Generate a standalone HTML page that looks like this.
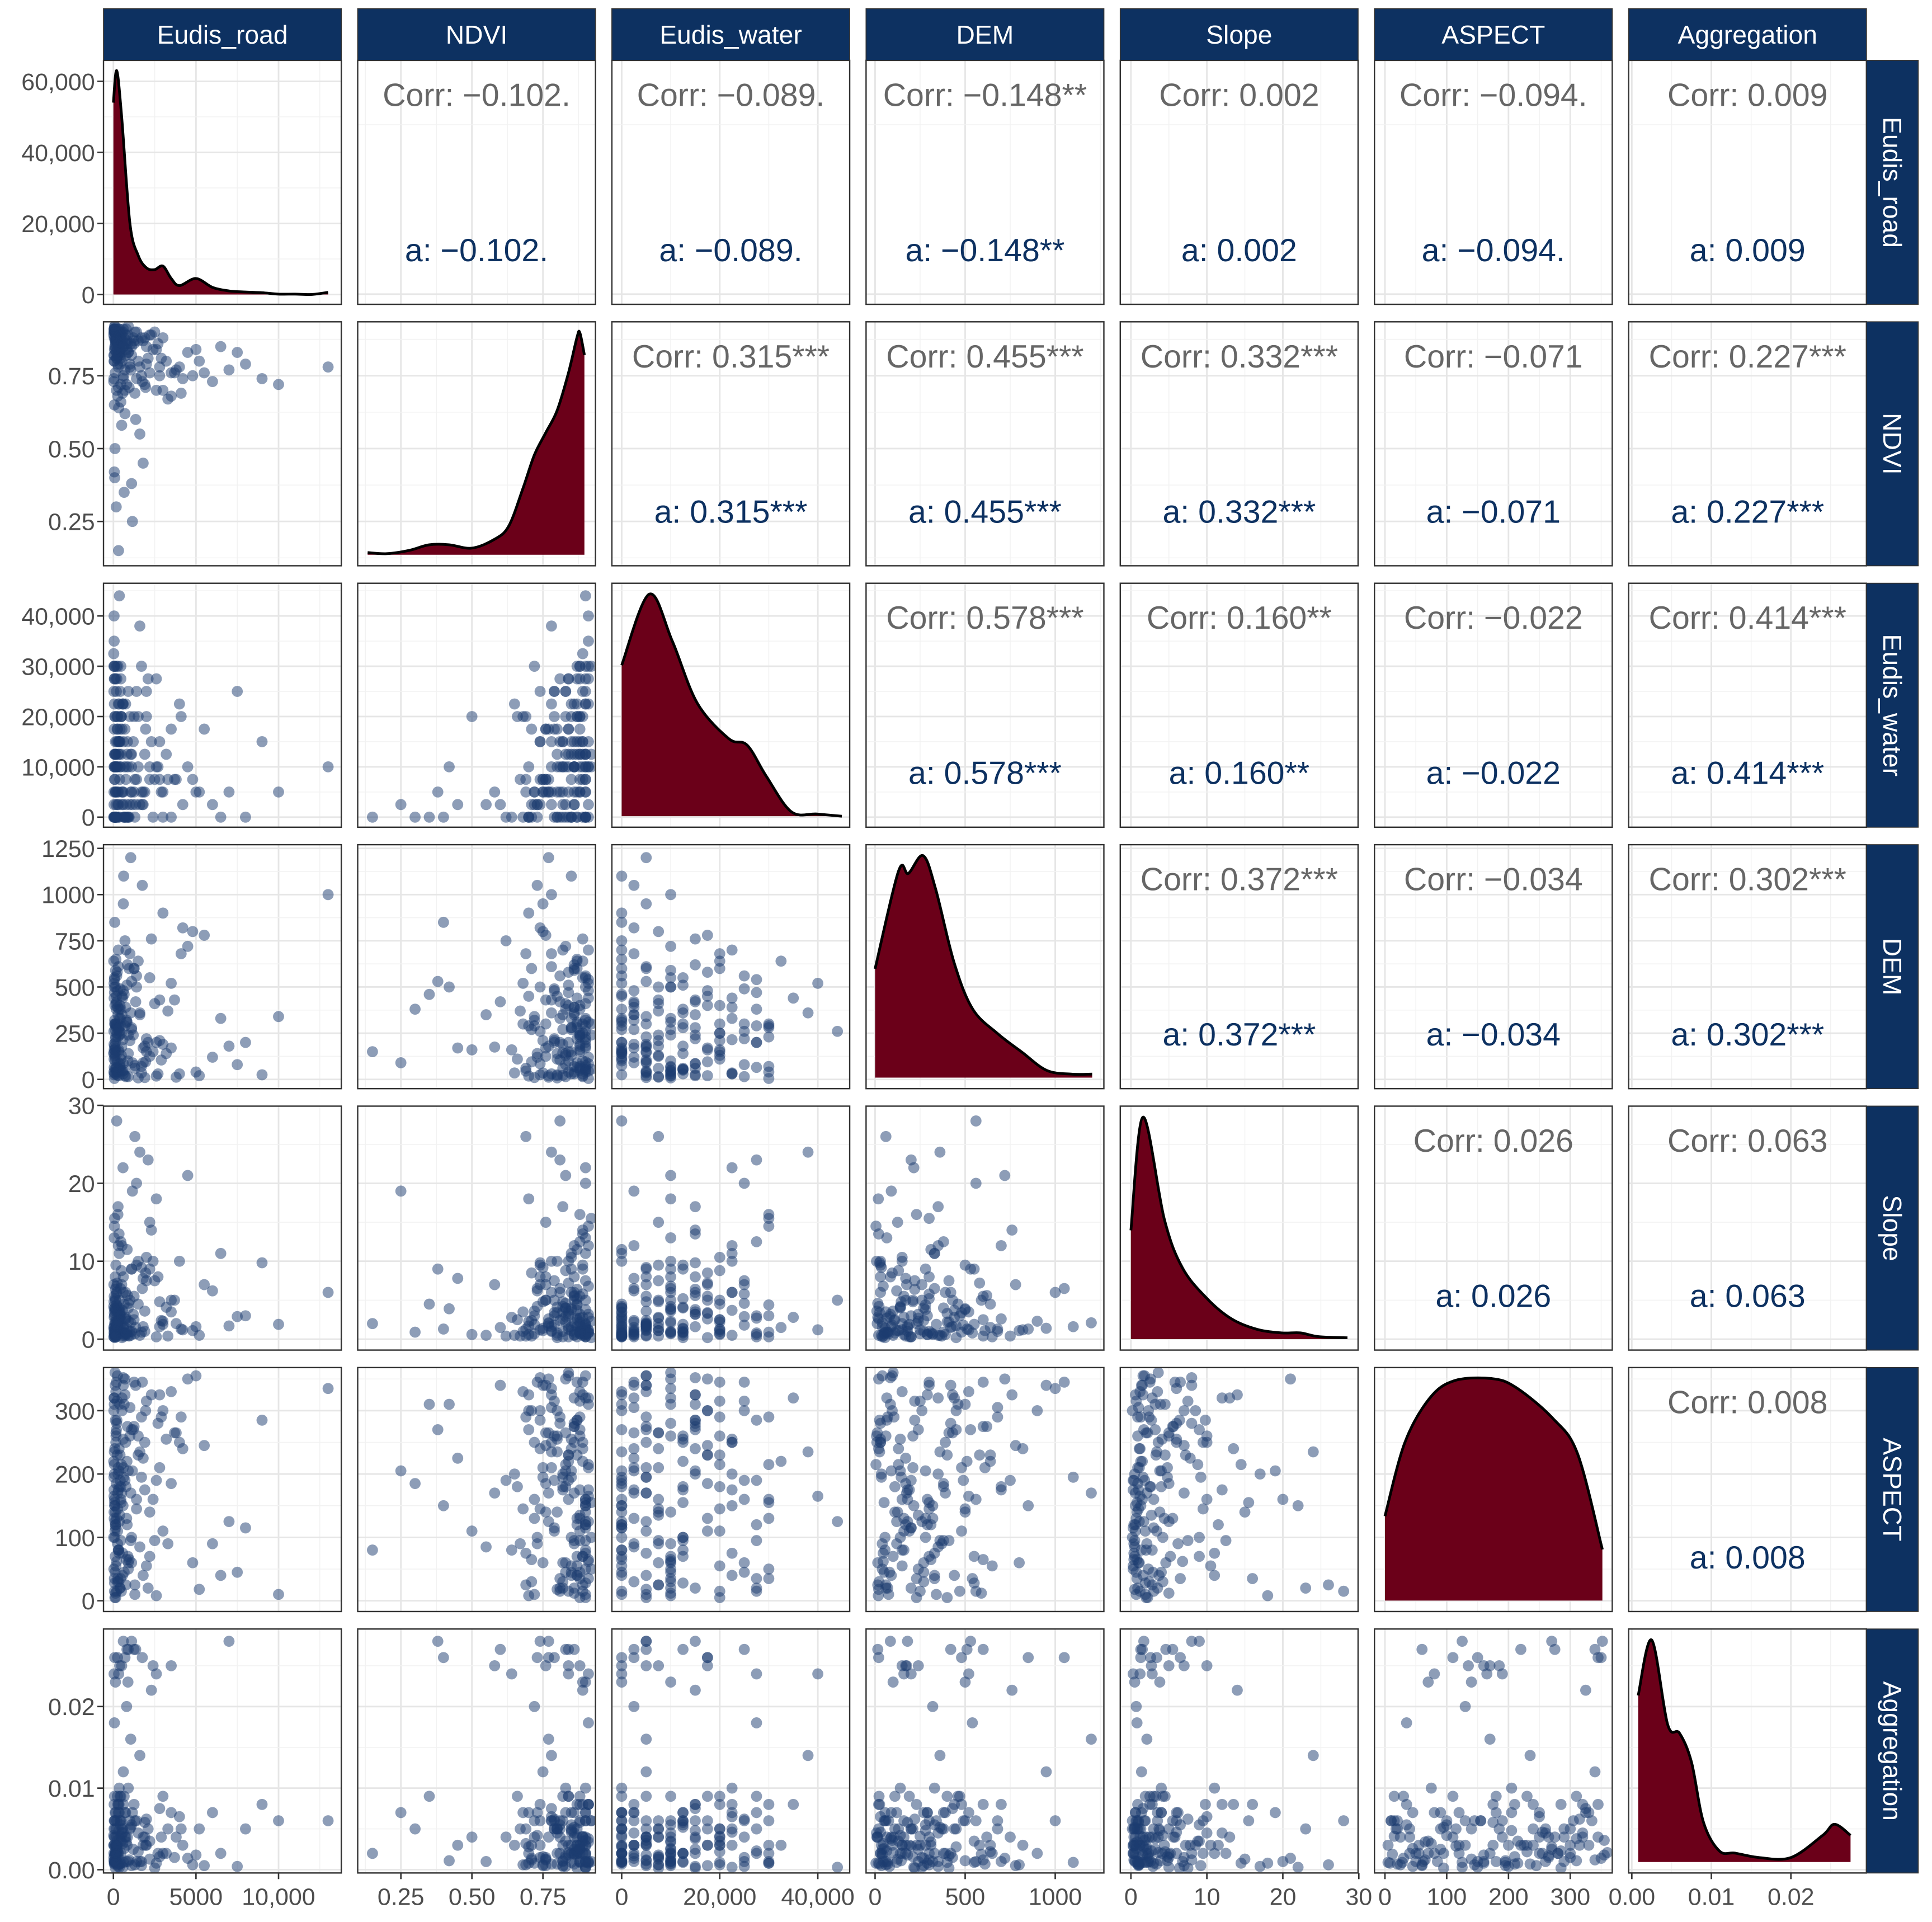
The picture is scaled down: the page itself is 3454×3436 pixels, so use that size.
<!DOCTYPE html>
<html><head><meta charset="utf-8"><style>
html,body{margin:0;padding:0;background:#fff;}
svg{display:block;}
text{font-family:"Liberation Sans",sans-serif;}
</style></head><body>
<svg id="chart" width="3454" height="3436" viewBox="0 0 1568 1560" preserveAspectRatio="none" xmlns="http://www.w3.org/2000/svg"></svg>
<script>
// ---------- data ----------
const varNames = ["Eudis_road","NDVI","Eudis_water","DEM","Slope","ASPECT","Aggregation"];
const road = [100,300,50,800,1200,200,450,2500,600,150,900,3000,75,400,1800,250,5000,350,700,120,2200,60,1500,3500,90,500,4200,1100,30,650,280,7000,180,950,2700,40,1300,400,6000,220,80,3200,550,1700,140,4500,320,850,10000,60,1000,2000,170,380,5500,240,1400,700,110,2900,8000,20,600,1600,300,3800,130,900,260,13000,450,1900,70,2400,520,1150,190,4800,340,760,45,2600,1250,95,6500,410,160,1750,580,3300,230,880,55,2100,1050,360,9000,150,480,1350,85,3700,270,620,1950,125,5200,740,310,2300,40,1600,200,4100,830,65,2800,470,1100,7500,
150,400,80,1000,250,600,30,1800,350,120,700,2200,90,450,1300,200,3000,60,520,900,40,1500,300,110,2600,750,180,50,1100,380,260,4000,140,820,20,1700,430,70,1250,560,330,95,2000,650,160,3500,240,1050,55,480,1400,210,780,35,2800,130,590,310,1900,100];
const ndvi = [0.85,0.78,0.9,0.72,0.88,0.81,0.66,0.9,0.75,0.89,0.83,0.7,0.92,0.86,0.45,0.79,0.84,0.9,0.62,0.87,0.76,0.91,0.8,0.68,0.88,0.58,0.74,0.85,0.9,0.35,0.82,0.77,0.89,0.71,0.86,0.91,0.69,0.84,0.73,0.88,0.4,0.8,0.87,0.75,0.9,0.83,0.64,0.86,0.72,0.91,0.78,0.85,0.3,0.88,0.76,0.82,0.9,0.7,0.87,0.81,0.79,0.89,0.74,0.55,0.91,0.77,0.86,0.83,0.68,0.78,0.88,0.72,0.9,0.84,0.8,0.25,0.87,0.75,0.89,0.82,0.91,0.7,0.86,0.5,0.85,0.79,0.88,0.73,0.9,0.67,0.84,0.89,0.42,0.81,0.77,0.9,0.74,0.87,0.83,0.6,0.92,0.76,0.88,0.85,0.71,0.9,0.8,0.86,0.15,0.89,0.82,0.78,0.91,0.69,0.87,0.84,0.75,0.9,0.38,0.83,
0.88,0.82,0.9,0.79,0.86,0.91,0.74,0.87,0.83,0.9,0.77,0.89,0.85,0.72,0.9,0.81,0.88,0.65,0.86,0.92,0.8,0.87,0.9,0.76,0.84,0.89,0.7,0.88,0.82,0.91,0.86,0.78,0.9,0.84,0.73,0.88,0.81,0.9,0.87,0.69,0.85,0.91,0.79,0.88,0.83,0.76,0.9,0.86,0.8,0.89,0.74,0.87,0.91,0.82,0.78,0.9,0.85,0.71,0.88,0.84];
const water = [0,5000,10000,2500,15000,0,20000,7500,5000,12500,25000,0,30000,10000,2500,17500,5000,22500,0,15000,7500,27500,10000,0,20000,5000,2500,12500,30000,0,15000,5000,25000,0,10000,40000,7500,17500,2500,20000,0,12500,22500,5000,27500,10000,0,15000,5000,30000,2500,20000,0,7500,17500,10000,25000,0,12500,5000,0,32500,15000,2500,22500,7500,10000,0,20000,10000,27500,5000,12500,0,17500,2500,30000,7500,15000,0,35000,10000,5000,20000,0,25000,12500,2500,22500,7500,17500,0,10000,27500,5000,44000,15000,0,20000,2500,12500,7500,30000,0,17500,10000,5000,22500,0,15000,2500,38000,10000,20000,0,27500,7500,12500,5000,25000,
5000,15000,0,20000,10000,2500,25000,5000,12500,0,17500,10000,7500,30000,0,15000,5000,22500,2500,10000,0,20000,12500,5000,27500,7500,0,17500,10000,15000,2500,22500,5000,12500,0,30000,10000,7500,20000,5000,15000,0,25000,10000,2500,17500,5000,12500,0,20000,7500,27500,10000,5000,15000,0,22500,2500,12500,10000];
const dem = [270,610,65,320,240,560,110,410,950,30,15,900,300,70,170,480,40,330,750,220,125,540,8,520,400,175,820,280,40,460,350,180,300,600,30,520,60,400,120,250,850,140,440,35,290,720,160,620,340,5,680,150,380,240,780,22,560,290,300,105,200,640,85,350,700,12,590,140,300,1000,380,10,550,150,450,90,280,800,20,700,440,18,600,160,330,490,60,1050,215,370,580,100,500,200,1200,260,25,650,130,420,55,430,230,1100,95,500,20,390,150,760,190,360,45,680,310,470,210,50,530,80,
150,60,320,210,40,480,260,90,380,170,20,550,130,290,75,420,190,35,350,240,110,640,55,300,200,15,450,160,270,85,390,30,230,510,140,70,330,180,600,45,280,120,220,50,410,170,95,360,25,250,500,65,310,145,430,200,30,270,180,100];
const slope = [4,1.1,13,0.7,3.2,28,2.5,7.5,1.4,9.5,4.6,2.3,15.5,0.9,7.8,3.4,1.6,11,0.4,6.4,15,0.8,10,3.5,2.2,7,1.2,9,0.3,4.5,17,1.7,5.8,0.4,8,1.2,26,3.3,6.2,0.7,1.3,4.1,3.7,9.2,0.6,21,2.8,5.6,1.9,14.5,1,10.5,0.9,2.7,7,4.2,20,0.6,5.2,2.4,3,1.5,8,0.5,12,2,5,4,1,6,12.5,3.6,1.9,10,0.2,19,4.4,1.1,13.5,2.6,2.8,18,5.5,0.6,11,1.8,0.9,6.5,22,0.4,7.2,0.5,3.9,23,2.1,5,9.8,0.3,8.8,1.5,0.2,5,16,1.6,8.5,3.8,0.5,6,2,14,0.3,24,6.8,1.3,11.5,3,4.8,0.8,9,2.9,
1.2,3.5,0.6,5,2.1,0.9,7,1.6,4,0.4,2.6,9,1.1,3,0.7,6,1.9,0.5,12,2.3,0.8,4.5,1.4,8,0.3,2.8,1.7,5.5,1,3.2,0.6,10,2,1.3,4.2,0.9,6.5,1.5,2.5,0.4,3.8,1.1,7.5,0.7,2.2,5,1.8,0.5,3.4,1.2,9.5,2.7,0.8,4.8,1.6,0.3,6,2.4,1,3.6];
const aspect = [45,210,320,130,270,15,180,95,340,250,60,300,155,20,225,110,355,75,190,285,140,35,260,330,5,170,240,100,50,310,200,125,345,65,280,165,25,230,90,315,150,255,40,195,120,350,80,275,10,215,305,55,185,135,245,30,160,325,70,290,115,220,352,85,175,265,12,205,145,335,95,250,28,160,300,205,130,60,240,180,320,8,275,110,40,190,260,345,150,90,230,70,310,20,170,125,285,55,215,340,100,265,35,195,300,140,18,250,80,325,175,235,62,290,120,15,210,155,270,45,
330,20,150,260,90,210,300,40,180,120,350,70,240,160,10,280,110,200,320,50,140,230,80,340,190,25,270,130,60,310,170,250,5,220,100,290,35,160,345,75,205,125,315,45,265,185,355,95,235,15,145,285,65,195,325,115,255,30,175,360];
const agg = [0.007,0.0007,0.004,0.02,0.0025,0.006,0.009,0.0002,0.012,0.002,0.027,0.002,0.006,0.0007,0.003,0.026,0.0018,0.01,0.004,0.0002,0.0013,0.018,0.0045,0.007,0.0009,0.025,0.003,0.0055,0.002,0.009,0.0004,0.028,0.004,0.0012,0.002,0.024,0.0006,0.009,0.007,0.003,0.026,0.002,0.005,0.0005,0.007,0.0014,0.024,0.004,0.006,0.0008,0.006,0.003,0.005,0.025,0.0005,0.009,0.001,0.007,0.002,0.004,0.005,0.003,0.028,0.001,0.008,0.004,0.0019,0.01,0.0006,0.006,0.002,0.004,0.0009,0.025,0.005,0.007,0.003,0.0006,0.008,0.001,0.008,0.0008,0.027,0.004,0.002,0.006,0.001,0.026,0.0003,0.005,0.003,0.023,0.0011,0.005,0.016,0.0003,0.008,0.002,0.0035,0.027,0.006,0.0015,0.008,0.0009,0.003,0.023,0.005,0.007,0.002,0.022,0.003,0.014,0.001,0.005,0.003,0.009,0.0016,0.006,0.028,0.0004,
0.003,0.006,0.001,0.005,0.0025,0.008,0.0015,0.004,0.007,0.002,0.026,0.0035,0.005,0.0008,0.006,0.002,0.009,0.003,0.0045,0.001,0.005,0.0022,0.007,0.0012,0.024,0.004,0.0028,0.006,0.0005,0.0038,0.002,0.0065,0.003,0.027,0.0042,0.001,0.0055,0.0018,0.008,0.0032,0.0048,0.0009,0.0062,0.0026,0.0017,0.025,0.0036,0.0052,0.0007,0.0041,0.006,0.0023,0.0034,0.0011,0.0075,0.0029,0.0046,0.0014,0.0058,0.0021];
const columns = [road,ndvi,water,dem,slope,aspect,agg];
const domains = [[-600,13800],[0.098,0.935],[-2000,46500],[-50,1270],[-1.4,29.9],[-17,368],[-0.0004,0.0295]];
const ticks = [[0,5000,10000],[0.25,0.5,0.75],[0,20000,40000],[0,500,1000],[0,10,20,30],[0,100,200,300],[0,0.01,0.02]];
const xTickLabels = [["0","5000","10,000"],["0.25","0.50","0.75"],["0","20,000","40,000"],["0","500","1000"],["0","10","20","30"],["0","100","200","300"],["0.00","0.01","0.02"]];
const yTicks = [[0,20000,40000,60000],[0.25,0.5,0.75],[0,10000,20000,30000,40000],[0,250,500,750,1000,1250],[0,10,20,30],[0,100,200,300],[0,0.01,0.02]];
const yTickLabels = [["0","20,000","40,000","60,000"],["0.25","0.50","0.75"],["0","10,000","20,000","30,000","40,000"],["0","250","500","750","1000","1250"],["0","10","20","30"],["0","100","200","300"],["0.00","0.01","0.02"]];
const roadDensDomain = [-2770,65900];
const densX = [
 [0,200,500,1000,1500,2000,2500,3000,3500,4000,5000,6000,7000,8000,9000,10000,11000,12000,13000],
 [0.133,0.2,0.28,0.35,0.42,0.5,0.58,0.63,0.68,0.72,0.76,0.8,0.84,0.87,0.88,0.896],
 [0,5600,10300,15400,21800,25600,29500,34600,39800,44900],
 [0,130,185,267,336,438,541,678,815,952,1089,1205],
 [0,1.6,4.4,6.8,10.1,13.3,16.6,19.8,22.3,24.7,28.5],
 [0,32,72,112,172,212,272,312,352],
 [0.0008,0.0025,0.0045,0.006,0.0075,0.009,0.011,0.013,0.016,0.02,0.024,0.0255,0.0275]
];
const densY = [
 [54000,63000,50000,20000,11000,7500,7000,8000,4500,2500,4500,2000,1000,700,500,100,100,0,600],
 [0.01,0.005,0.02,0.045,0.045,0.03,0.07,0.13,0.3,0.45,0.55,0.65,0.82,0.98,1.0,0.9],
 [0.68,1.0,0.79,0.51,0.35,0.32,0.18,0.02,0.01,0.0],
 [0.49,0.93,0.92,1.0,0.85,0.52,0.31,0.2,0.115,0.033,0.016,0.016],
 [0.49,1.0,0.54,0.32,0.18,0.09,0.044,0.028,0.028,0.011,0.006],
 [0.38,0.71,0.91,0.99,1.0,0.96,0.82,0.66,0.23],
 [0.75,1.0,0.62,0.58,0.45,0.18,0.05,0.04,0.02,0.02,0.12,0.17,0.12]
];
const corrVals = [
 [null,"−0.102.","−0.089.","−0.148**","0.002","−0.094.","0.009"],
 [null,null,"0.315***","0.455***","0.332***","−0.071","0.227***"],
 [null,null,null,"0.578***","0.160**","−0.022","0.414***"],
 [null,null,null,null,"0.372***","−0.034","0.302***"],
 [null,null,null,null,null,"0.026","0.063"],
 [null,null,null,null,null,null,"0.008"]
];

// ---------- layout ----------
const NS="http://www.w3.org/2000/svg";
const svg=document.getElementById('chart');
const X0=84, PW=193, PX=206.3, Y0=49, PH=198, PY=212.2;
function mk(tag,attrs,parent){const e=document.createElementNS(NS,tag);for(const k in attrs)e.setAttribute(k,attrs[k]);(parent||svg).appendChild(e);return e;}
function sx(v,j){const d=domains[j];const x0=X0+j*PX;return x0+(v-d[0])/(d[1]-d[0])*PW;}
function sy(v,i){const d=domains[i];const y0=Y0+i*PY;return y0+PH-(v-d[0])/(d[1]-d[0])*PH;}
const defs=mk('defs',{});

for(let i=0;i<7;i++){
 for(let j=0;j<7;j++){
  const x0=X0+j*PX, y0=Y0+i*PY;
  const g=mk('g',{});
  
  
  const cp=mk('clipPath',{id:'c'+i+'_'+j},defs);
  mk('rect',{x:x0,y:y0,width:PW,height:PH},cp);
  mk('rect',{x:x0,y:y0,width:PW,height:PH,fill:'#fff'},g);
  const gg=mk('g',{'clip-path':'url(#c'+i+'_'+j+')'},g);
  const xt=ticks[j];
  const step=xt[1]-xt[0];
  for(let t=xt[0]-step/2;t<=domains[j][1];t+=step/2){
   const isMaj2=Math.abs(((t-xt[0])/step)-Math.round((t-xt[0])/step))<1e-3;
   const x=sx(t,j);
   mk('line',{x1:x,x2:x,y1:y0,y2:y0+PH,stroke:isMaj2?'#e6e6e6':'#f2f2f2','stroke-width':isMaj2?1.3:0.7},gg);
  }
  let yt, ymap;
  if(i===j && i===0){yt=yTicks[0];ymap=v=>y0+PH-(v-roadDensDomain[0])/(roadDensDomain[1]-roadDensDomain[0])*PH;}
  else {yt=yTicks[i];ymap=v=>sy(v,i);}
  const ys=yt[1]-yt[0];
  for(let k=-1;k<=yt.length*2+2;k++){
   const t=yt[0]+k*ys/2; const y=ymap(t);
   if(y<y0||y>y0+PH)continue;
   const maj=k%2===0;
   mk('line',{x1:x0,x2:x0+PW,y1:y,y2:y,stroke:maj?'#e6e6e6':'#f2f2f2','stroke-width':maj?1.3:0.7},gg);
  }
  if(i===j){
   const xs=densX[i], hs=densY[i];
   let pts=[];
   let base, hy;
   if(i===0){hy=v=>ymap(v);base=ymap(0);}
   else {base=y0+PH-0.045*PH; const top=y0+0.045*PH; hy=v=>base-v*(base-top);}
   for(let k=0;k<xs.length;k++)pts.push([sx(xs[k],j),hy(hs[k])]);
   let d='M'+pts[0][0]+','+pts[0][1];
   for(let k=0;k<pts.length-1;k++){
    const p0=pts[Math.max(0,k-1)],p1=pts[k],p2=pts[k+1],p3=pts[Math.min(pts.length-1,k+2)];
    d+=' C'+(p1[0]+(p2[0]-p0[0])/6)+','+(p1[1]+(p2[1]-p0[1])/6)+' '+(p2[0]-(p3[0]-p1[0])/6)+','+(p2[1]-(p3[1]-p1[1])/6)+' '+p2[0]+','+p2[1];
   }
   const area=mk('path',{d:d+' L'+pts[pts.length-1][0]+','+base+' L'+pts[0][0]+','+base+' Z',fill:'#6b0019'},gg);
   
   
   const line=mk('path',{d:d,fill:'none',stroke:'#000','stroke-width':2.2},gg);
   
   
  } else if(i>j){
   const xv=columns[j], yv=columns[i];
   for(let k=0;k<xv.length;k++){
    const c=mk('circle',{cx:sx(xv[k],j),cy:sy(yv[k],i),r:4.5,fill:'#1b3b6f','fill-opacity':0.5},gg);
    
    
   }
  } else {
   const t1=mk('text',{x:x0+PW/2,y:y0+37,'text-anchor':'middle','font-size':26,fill:'#666'},g);
   t1.textContent='Corr: '+corrVals[i][j];
   
   
   const t2=mk('text',{x:x0+PW/2,y:y0+163,'text-anchor':'middle','font-size':26,fill:'#0d3161'},g);
   t2.textContent='a: '+corrVals[i][j];
   
   
  }
  mk('rect',{x:x0,y:y0,width:PW,height:PH,fill:'none',stroke:'#333','stroke-width':1.1},g);
 }
}
for(let j=0;j<7;j++){
 const x0=X0+j*PX;
 const s=mk('rect',{x:x0,y:7,width:PW,height:42,fill:'#0d3161',stroke:'#333','stroke-width':0.8});
 
 
 const t=mk('text',{x:x0+PW/2,y:35.5,'text-anchor':'middle','font-size':21,fill:'#fff'});
 t.textContent=varNames[j];
 
 
}
for(let i=0;i<7;i++){
 const y0=Y0+i*PY;
 const s=mk('rect',{x:X0+6*PX+PW,y:y0,width:42,height:PH,fill:'#0d3161',stroke:'#333','stroke-width':0.8});
 
 
 const cx=X0+6*PX+PW+21, cy=y0+PH/2;
 const t=mk('text',{x:cx,y:cy,'text-anchor':'middle','dominant-baseline':'central','font-size':21,fill:'#fff',transform:'rotate(90 '+cx+' '+cy+')'});
 t.textContent=varNames[i];
 
 
}
for(let i=0;i<7;i++){
 const y0=Y0+i*PY;
 const yt=yTicks[i];
 for(let k=0;k<yt.length;k++){
  const y= i===0 ? y0+PH-(yt[k]-roadDensDomain[0])/(roadDensDomain[1]-roadDensDomain[0])*PH : sy(yt[k],i);
  mk('line',{x1:X0-5,x2:X0,y1:y,y2:y,stroke:'#333','stroke-width':1.2});
  const t=mk('text',{x:X0-7,y:y+7,'text-anchor':'end','font-size':19.5,fill:'#4d4d4d'});
  t.textContent=yTickLabels[i][k];
  
  
 }
}
const yb=Y0+6*PY+PH;
for(let j=0;j<7;j++){
 const xt=ticks[j];
 for(let k=0;k<xt.length;k++){
  const x=sx(xt[k],j);
  mk('line',{x1:x,x2:x,y1:yb,y2:yb+5,stroke:'#333','stroke-width':1.2});
  const t=mk('text',{x:x,y:yb+26,'text-anchor':'middle','font-size':19.5,fill:'#4d4d4d'});
  t.textContent=xTickLabels[j][k];
  
  
 }
}
</script>
</body></html>
